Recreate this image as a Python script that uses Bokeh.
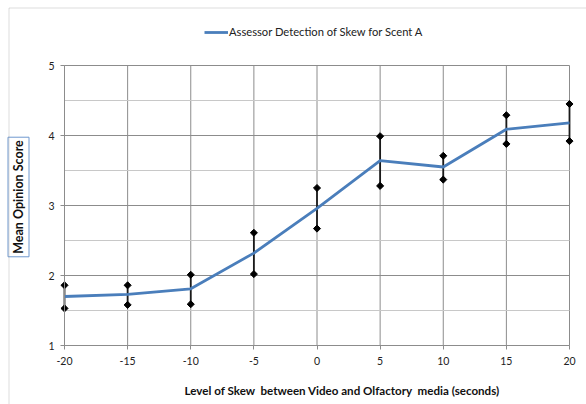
import math
from bokeh.plotting import figure
from bokeh.models import ColumnDataSource, Legend, LegendItem, Label, FixedTicker, BoxAnnotation
from bokeh.embed import file_html
from bokeh.resources import INLINE

# Skew levels (seconds) and mean opinion scores with their interval bounds
skew = [-20, -15, -10, -5, 0, 5, 10, 15, 20]
mos = [1.70, 1.73, 1.81, 2.32, 2.96, 3.64, 3.55, 4.09, 4.18]
upper = [1.86, 1.86, 2.01, 2.61, 3.25, 3.99, 3.71, 4.29, 4.45]
lower = [1.53, 1.58, 1.59, 2.02, 2.67, 3.28, 3.37, 3.88, 3.92]
x_ticks = [-20, -15, -10, -5, 0, 5, 10, 15, 20]
y_ticks = [1, 2, 3, 4, 5]
y_minor = [1.5, 2.5, 3.5, 4.5]

FONT = "Lato"
GRID = "#8c8c8c"
MINOR = "#c8c8c8"

W, H = 586, 404
# plot area inside the canvas (pixels)
PL, PR, PT, PB = 64, 569, 65, 345
X0, X1, Y0, Y1 = -20, 20, 1, 5
sx = (PR - PL) / (X1 - X0)
sy = (PB - PT) / (Y1 - Y0)
xr = (X0 - PL / sx, X1 + (W - PR) / sx)
yr = (Y0 - (H - PB) / sy, Y1 + PT / sy)


def px_x(px):
    return xr[0] + px / sx


def px_y(py):
    return yr[1] - py / sy


src = ColumnDataSource(dict(x=skew, mos=mos, hi=upper, lo=lower))

p = figure(width=W, height=H, output_backend="svg", toolbar_location=None,
           x_range=xr, y_range=yr,
           min_border_left=0, min_border_right=0,
           min_border_top=0, min_border_bottom=0)
p.background_fill_color = "white"
p.border_fill_color = "white"
p.outline_line_color = None
p.grid.visible = False

# gridlines restricted to the plot area
p.segment(x0=x_ticks, y0=[Y0] * len(x_ticks), x1=x_ticks, y1=[Y1] * len(x_ticks),
          line_color=GRID, line_width=1)
p.segment(x0=[X0] * len(y_minor), y0=y_minor, x1=[X1] * len(y_minor), y1=y_minor,
          line_color=MINOR, line_width=1)
p.segment(x0=[X0] * len(y_ticks), y0=y_ticks, x1=[X1] * len(y_ticks), y1=y_ticks,
          line_color=GRID, line_width=1)

# axes pinned to the plot area
p.xaxis.fixed_location = Y0
p.yaxis.fixed_location = X0
p.xaxis.bounds = (X0, X1)
p.yaxis.bounds = (Y0, Y1)
for ax in (p.xaxis, p.yaxis):
    ax.axis_line_color = GRID
    ax.major_tick_line_color = GRID
    ax.minor_tick_line_color = None
    ax.major_tick_in = 0
    ax.major_tick_out = 4
    ax.major_label_text_font = FONT
    ax.major_label_text_font_size = "10.5px"
    ax.major_label_text_color = "#222222"
p.xaxis.ticker = FixedTicker(ticks=x_ticks)
p.yaxis.ticker = FixedTicker(ticks=y_ticks)
# plain hyphen-minus for negative tick labels
p.xaxis.major_label_overrides = {t: str(t) for t in x_ticks}
p.xaxis.major_label_standoff = 7
p.yaxis.major_label_standoff = 6

# interval bars with diamond end markers (squares turned 45 degrees)
p.segment(x0="x", y0="lo", x1="x", y1="hi", source=src,
          line_color="#1a1a1a", line_width=1.8)
for col in ("hi", "lo"):
    p.scatter(x="x", y=col, source=src, marker="square", angle=math.pi / 4,
              size=5, fill_color="black", line_color="black", line_width=1)

# mean opinion score line
mline = p.line(x="x", y="mos", source=src, line_color="#4a7ebb", line_width=2.8)

legend = Legend(items=[LegendItem(label="Assessor Detection of Skew for Scent A",
                                  renderers=[mline])],
                location=(204, H - 32 - 6), orientation="horizontal",
                padding=0, margin=0, spacing=0, glyph_width=24, glyph_height=12,
                label_height=12, label_standoff=1,
                label_text_font=FONT, label_text_font_size="11.2px",
                label_text_color="#222222",
                border_line_color=None, background_fill_alpha=0)
p.add_layout(legend, "center")

# x-axis title
p.add_layout(Label(x=px_x(342), y=px_y(390),
                   text="Level of Skew \u00a0between Video and Olfactory \u00a0media (seconds)",
                   text_font=FONT, text_font_size="11.6px", text_font_style="bold",
                   text_color="#111111", text_align="center", text_baseline="middle"))

# boxed y-axis title
p.add_layout(Label(x=px_x(18), y=px_y(196.5), text="Mean Opinion Score",
                   angle=math.pi / 2,
                   text_font=FONT, text_font_size="12.5px", text_font_style="bold",
                   text_color="#111111", text_align="center", text_baseline="middle",
                   border_line_color="#6f98cf", border_line_width=1,
                   background_fill_color="white", padding=3))

# chart area border (left and top edges)
p.add_layout(BoxAnnotation(left=px_x(8.5), right=xr[1] + 5, top=px_y(7.5),
                           bottom=yr[0] - 5, fill_alpha=0,
                           line_color=GRID, line_width=1))

open("out.html", "w").write(file_html(p, INLINE))
